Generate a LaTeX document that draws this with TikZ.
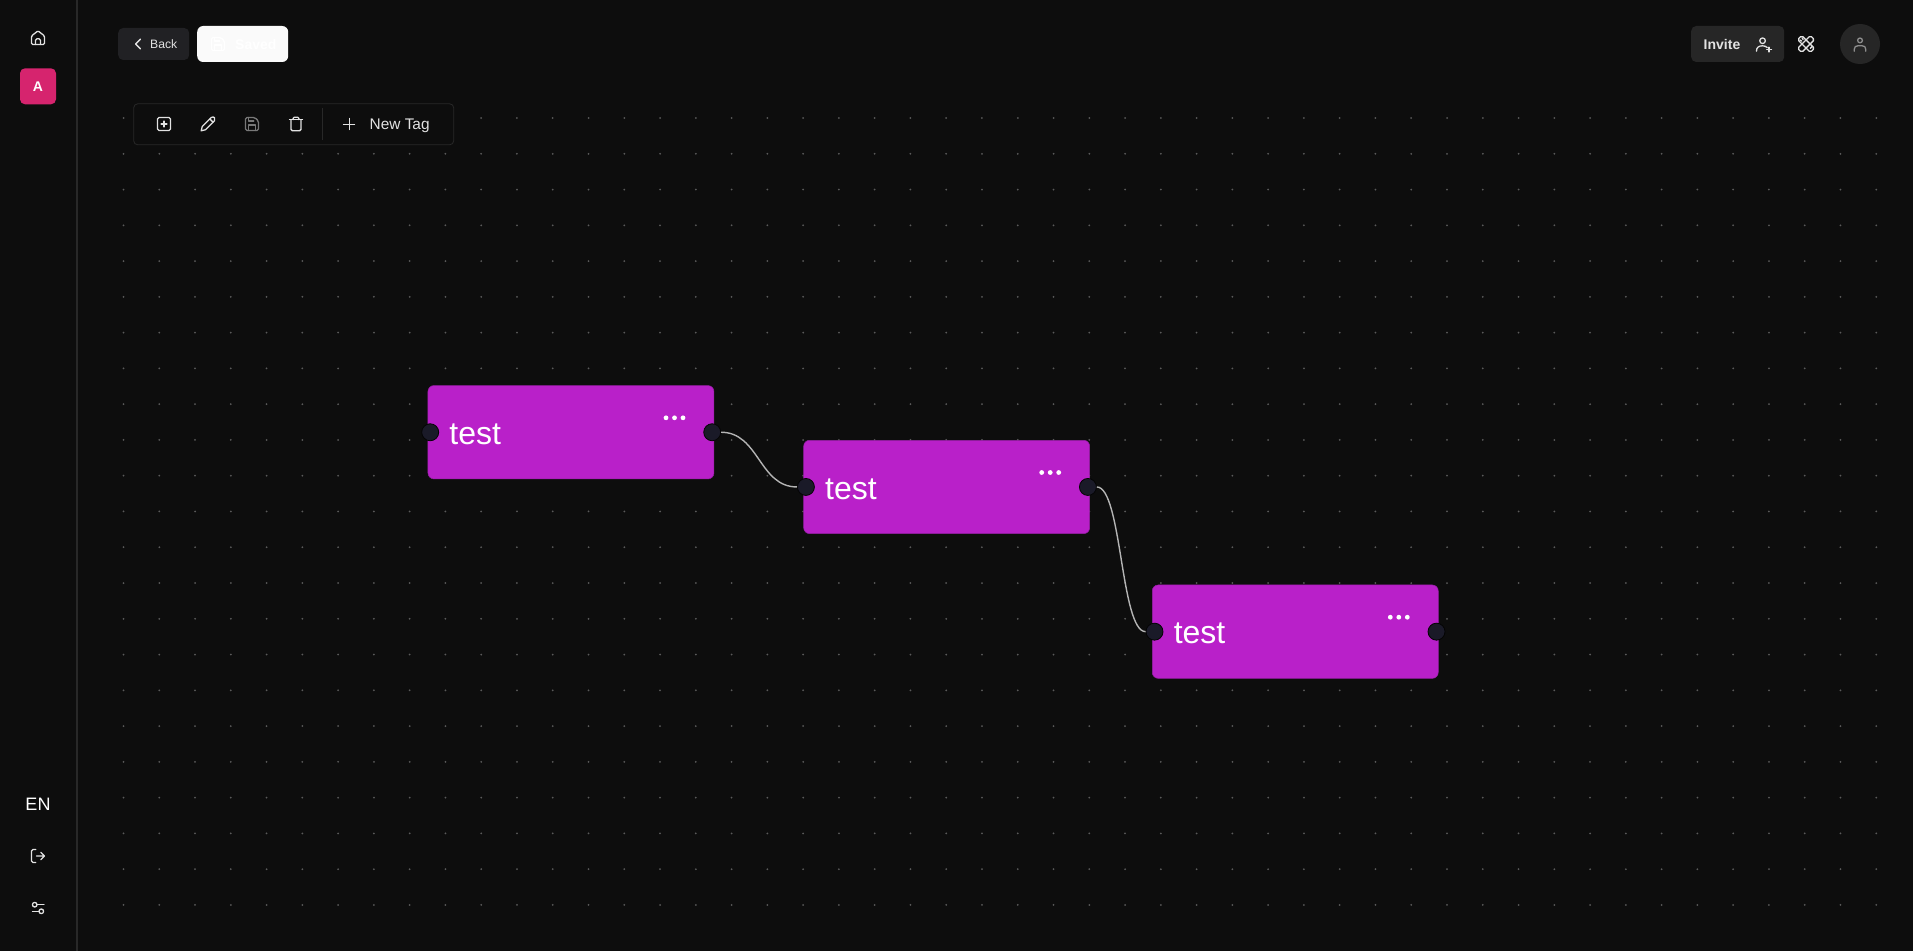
\documentclass[tikz,border=0pt]{standalone}
\usepackage{fontspec}
\setmainfont{Liberation Sans}
\usetikzlibrary{positioning}
\definecolor{canvasbg}{HTML}{0D0D0D}
\definecolor{griddot}{HTML}{5A5A5A}
\definecolor{ruleline}{HTML}{282828}
\definecolor{tagmagenta}{HTML}{B920C9}
\definecolor{tagedge}{HTML}{951FA3}
\definecolor{portdark}{HTML}{1A1A28}
\definecolor{edgegrey}{HTML}{B4B4B4}
\definecolor{btndark}{HTML}{212124}
\definecolor{btninvite}{HTML}{262626}
\definecolor{avatarpink}{HTML}{D6246E}
\definecolor{icongrey}{HTML}{E2E2E2}
\tikzset{
  homeicon/.pic={\begin{scope}[shift={(-12,-12)}]
    \draw[rounded corners=1.2pt] (3,9.5) -- (12,2.5) -- (21,9.5) -- (21,21.5) -- (3,21.5) -- cycle;
    \draw[rounded corners=1.5pt] (8.5,21.5) -- (8.5,13.5) -- (15.5,13.5) -- (15.5,21.5);
  \end{scope}},
  plusboxicon/.pic={\begin{scope}[shift={(-12,-12)}]
    \draw[rounded corners=1.5pt] (3,3) rectangle (21,21);
    \draw (8,12) -- (16,12) (12,8) -- (12,16);
  \end{scope}},
  pencilicon/.pic={\begin{scope}[shift={(-12,-12)}]
    \draw[line join=round] (2.5,21.5) -- (4,15.5) -- (16.5,3) .. controls (18,1.8) and (20,2) .. (21,3.2) .. controls (22,4.5) and (22,6) .. (21,7.5) -- (8.5,20) -- cycle;
    \draw (14.5,5) -- (19,9.5);
  \end{scope}},
  saveicon/.pic={\begin{scope}[shift={(-12,-12)}]
    \draw[rounded corners=1.5pt] (3,3) -- (16,3) -- (21,8) -- (21,21) -- (3,21) -- cycle;
    \draw (7,21) -- (7,13.5) -- (17,13.5) -- (17,21);
    \draw (7,3) -- (7,8) -- (14.5,8);
  \end{scope}},
  trashicon/.pic={\begin{scope}[shift={(-12,-12)}]
    \draw (3,6) -- (21,6);
    \draw[rounded corners=1.5pt] (5,6) -- (5,21.5) -- (19,21.5) -- (19,6);
    \draw[rounded corners=1.2pt] (8,6) -- (8,2.5) -- (16,2.5) -- (16,6);
  \end{scope}},
  plusicon/.pic={\draw (-7,0) -- (7,0) (0,-7) -- (0,7);},
  chevronicon/.pic={\draw (3,-6) -- (-3,0) -- (3,6);},
  userplusicon/.pic={\begin{scope}[shift={(-12,-12)}]
    \draw (10,7.5) circle (3.9pt);
    \draw (1.5,22) .. controls (1.5,16.5) and (5,14.5) .. (10,14.5) .. controls (13,14.5) and (15,15.5) .. (16.5,17);
    \draw (19,16.5) -- (19,23) (15.7,19.7) -- (22.3,19.7);
  \end{scope}},
  toolsicon/.pic={\begin{scope}[shift={(-12,-12)}]
    \begin{scope}[rotate around={45:(12,12)}]
      \draw[rounded corners=1.5pt] (8,-0.5) rectangle (16,24.5);
    \end{scope}
    \begin{scope}[rotate around={-45:(12,12)}]
      \draw[rounded corners=1.5pt] (8,-0.5) rectangle (16,24.5);
    \end{scope}
    \draw (6.5,3.5) -- (8,6) (3.5,6.5) -- (6,8) (18,18) -- (20.5,15.5);
  \end{scope}},
  usericon/.pic={\begin{scope}[shift={(-12,-12)}]
    \draw (12,7) circle (3.3pt);
    \draw (4,22) -- (4,19.5) .. controls (4,16) and (6,14.5) .. (9,14.5) -- (15,14.5) .. controls (18,14.5) and (20,16) .. (20,19.5) -- (20,22);
  \end{scope}},
  logouticon/.pic={\begin{scope}[shift={(-12,-12)}]
    \draw[rounded corners=1.5pt] (9,21) -- (3,21) -- (3,3) -- (9,3);
    \draw (10,12) -- (21,12) (16,7) -- (21,12) -- (16,17);
  \end{scope}},
  slidersicon/.pic={
    \draw (-3.3,-3.3) circle (2.3pt);
    \draw (-0.8,-3.3) -- (6,-3.3);
    \draw (3.3,3.3) circle (2.3pt);
    \draw (-5.5,3.3) -- (0.8,3.3);
  }
}
\begin{document}
\begin{tikzpicture}[
  x=1pt, y=-1pt,
  griddotmark/.style={griddot},
  tagbox/.style={rectangle, fill=tagmagenta, draw=tagedge, line width=0.5pt, rounded corners=6pt, minimum width=286pt, minimum height=93.4pt, text width=243pt, inner xsep=21.5pt, inner ysep=0pt, text height=24.4pt, text depth=0pt, align=left, text=white, font=\fontsize{32}{36}\selectfont, anchor=north west},
  port/.style={circle, fill=portdark, draw=black!70!canvasbg, line width=0.8pt, minimum size=17pt, inner sep=0pt},
  flow/.style={edgegrey, line width=1.4pt},
  topbtn/.style={rectangle, rounded corners=5pt, minimum height=32pt, inner sep=0pt, anchor=west},
  baselabel/.style={inner sep=0pt, anchor=base west},
  icon/.style={color=icongrey, line width=1.3pt, line cap=round, line join=round, scale=0.72}
]
  \useasboundingbox (0,0) rectangle (1913,950);
  \fill[canvasbg] (-3,-3) rectangle (1916,953);
  \foreach \i in {0,...,49}
    \foreach \j in {0,...,22}
      \fill[griddotmark] (123.5+35.77*\i,118+35.77*\j) circle (1pt);

  \coordinate (railtop) at (76.7,-3);
  \coordinate (railbot) at (76.7,953);
  \draw[ruleline, line width=2pt] (railtop) -- (railbot);

  \pic[icon] at (38,37.7) {homeicon};
  \node[rectangle, fill=avatarpink, rounded corners=5pt, minimum size=36pt, inner sep=0pt, text=white, font=\fontsize{14}{16}\selectfont\bfseries] (space) at (38,86.3) {A};
  \node[inner sep=0pt, text=white, font=\fontsize{18}{20}\selectfont] (lang) at (38,804.5) {EN};
  \pic[icon] at (38,856) {logouticon};
  \pic[icon, scale=1.39] at (38,908) {slidersicon};

  \node[topbtn, fill=btndark, minimum width=71pt] (back) at (118,44) {};
  \node[baselabel, text=icongrey, font=\fontsize{12.2}{14}\selectfont] (backlabel) at (150,48.4) {Back};
  \pic[icon, scale=1.11] at (138,44) {chevronicon};
  \node[topbtn, fill=white!98!black, minimum width=91pt, minimum height=36pt, rounded corners=6pt] (saved) at (197,44) {};
  \node[baselabel, text=white, font=\fontsize{14}{16}\selectfont\bfseries] (savedlabel) at (235,49.3) {Saved};
  \pic[icon, color=white] at (218,44) {saveicon};

  \node[rectangle, draw=ruleline, fill=canvasbg, line width=0.8pt, rounded corners=4pt, minimum width=320pt, minimum height=41pt, inner sep=0pt, anchor=north west] (toolbar) at (133.3,103.4) {};
  \pic[icon] at (164,124) {plusboxicon};
  \pic[icon] at (208,124) {pencilicon};
  \pic[icon, color=icongrey!50!canvasbg] at (252,124) {saveicon};
  \pic[icon] at (296,124) {trashicon};
  \coordinate (toolsep) at (322.5,108);
  \draw[ruleline, line width=0.8pt] (toolsep) -- ++(0,32);
  \pic[icon, scale=1.1, line width=1pt] at (349,124) {plusicon};
  \node[baselabel, text=icongrey, font=\fontsize{15.4}{18}\selectfont] (newtag) at (369.5,129.4) {New Tag};

  \node[topbtn, fill=btninvite, minimum width=93pt, minimum height=36pt] (invite) at (1691,44) {};
  \node[baselabel, text=icongrey, font=\fontsize{14}{16}\selectfont\bfseries] (invitelabel) at (1703.5,49.2) {Invite};
  \pic[icon] at (1764,44) {userplusicon};
  \pic[icon] at (1806,44) {toolsicon};
  \node[circle, fill=btninvite, minimum size=40pt, inner sep=0pt] (avatar) at (1860,44) {};
  \pic[icon, color=icongrey!55!btninvite] at (1860,44) {usericon};

  \node[tagbox] (taga) at (427.7,385.3) {test};
  \node[tagbox] (tagb) at (803.4,440) {test};
  \node[tagbox] (tagc) at (1152,584.7) {test};

  \foreach \t in {taga,tagb,tagc} {
    \node[port] (\t in) at ([xshift=2.5pt]\t.west) {};
    \node[port] (\t out) at ([xshift=-2pt]\t.east) {};
    \foreach \d in {238.3,246.8,255.3}
      \fill[white] ([shift={(\d,32.5)}]\t.north west) circle (2.4pt);
  }

  \draw[flow] (tagaout.east) .. controls +(38,0) and +(-38,0) .. (tagbin.west);
  \draw[flow] (tagbout.east) .. controls +(25,0) and +(-25,0) .. (tagcin.west);
\end{tikzpicture}
\end{document}
